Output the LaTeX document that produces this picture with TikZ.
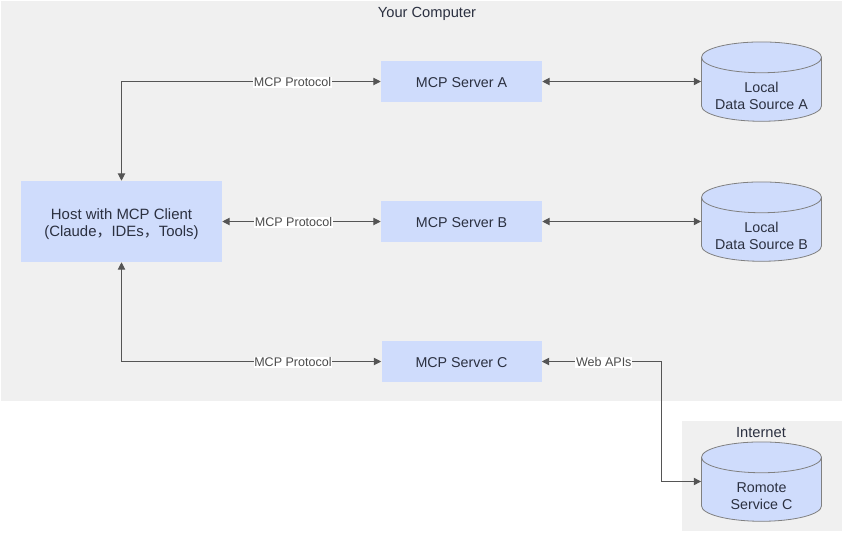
\documentclass[tikz,border=0pt]{standalone}
\usepackage{fontspec}
\setmainfont{Liberation Sans}
\newfontfamily\cjk{Noto Sans CJK SC}
\usetikzlibrary{arrows.meta, shapes.geometric}
\definecolor{areagray}{HTML}{F0F0F0}
\definecolor{boxblue}{HTML}{CFDCFC}
\definecolor{linegray}{HTML}{555555}
\definecolor{inkdark}{HTML}{2B3040}
\newcommand{\toprule}[1]{\rule{0pt}{#1}}
\newcommand{\storebody}{\rule{70pt}{0pt}}
\tikzset{
    area/.style={fill=areagray, inner sep=0pt},
    serverbox/.style={fill=boxblue, text=inkdark, align=center, inner sep=0pt, text height=9pt, font=\fontsize{10.7}{12.75}\selectfont},
    hostbox/.style={fill=boxblue, text=inkdark, align=center, inner sep=0pt, font=\fontsize{11.2}{12.75}\selectfont},
    store/.style={cylinder, shape border rotate=90, aspect=0.33, cylinder uses custom fill,
        cylinder body fill=boxblue, cylinder end fill=boxblue, draw=black!50, line width=0.6pt,
        minimum width=90pt, minimum height=59.5pt, inner sep=0pt},
    storetext/.style={text=inkdark, align=center, inner sep=0pt, font=\fontsize{10.7}{12.75}\selectfont},
    link/.style={draw=linegray, line width=0.75pt, {Triangle[length=5.5pt,width=5.5pt]}-{Triangle[length=5.5pt,width=5.5pt]}},
    linklabel/.style={fill=white, text=black!70, inner sep=0.5pt, yshift=-0.75pt, font=\fontsize{9.4}{10}\selectfont},
    arealabel/.style={text=inkdark, font=\fontsize{11}{12}\selectfont}
}

\begin{document}
\begin{tikzpicture}[x=0.75pt, y=-0.75pt]
    \useasboundingbox (0,0) rectangle (843,533);
    % Areas
    \node[area, minimum width=630.75pt, minimum height=300pt] (computer) at (421.5,201) {};
    \node[area, minimum width=120pt, minimum height=82.5pt] (internet) at (762,476) {};
    \node[arealabel] (computerlabel) at (427,14) {Your Computer};
    \node[arealabel] (internetlabel) at (761,433) {Internet};

    % Host and Servers
    \node[hostbox, minimum width=150.75pt, minimum height=60.75pt] (host) at (121.5,221.5) {\toprule{12pt}Host with MCP Client\\({Claude\cjk ，}IDEs{\cjk ，}Tools)};
    \node[serverbox, minimum width=120.75pt, minimum height=30.75pt] (serverA) at (461.5,81.5) {MCP Server A};
    \node[serverbox, minimum width=120.75pt, minimum height=30.75pt] (serverB) at (461.5,221.5) {MCP Server B};
    \node[serverbox, minimum width=120pt, minimum height=30.75pt] (serverC) at (461.5,361.5) {MCP Server C};

    % Data Sources
    \node[store] (sourceA) at (761.5,89.5) {\storebody};
    \node[storetext] (textA) at (761.5,96) {Local\\Data Source A};
    \node[store] (sourceB) at (761.5,229.5) {\storebody};
    \node[storetext] (textB) at (761.5,236) {Local\\Data Source B};
    \node[store] (serviceC) at (761.5,489.5) {\storebody};
    \node[storetext] (textC) at (761.5,496) {Romote\\Service C};

    % Links
    \draw[link] (host.north) |- node[linklabel, pos=0.83] (labelA) {MCP Protocol} (serverA.west);
    \draw[link] (host.east |- serverB) -- node[linklabel, pos=0.45] (labelB) {MCP Protocol} (serverB.west);
    \draw[link] (host.south) |- node[linklabel, pos=0.83] (labelC) {MCP Protocol} (serverC.west);
    \draw[link] (serverA.east) -- (sourceA.west |- serverA);
    \draw[link] (serverB.east) -- (sourceB.west |- serverB);
    \coordinate (webturn) at (661,361.5);
    \draw[link] (serverC.east) -- node[linklabel, pos=0.52] (labelWeb) {Web APIs} (webturn) |- (serviceC.west |- 0,481.5);
\end{tikzpicture}
\end{document}
